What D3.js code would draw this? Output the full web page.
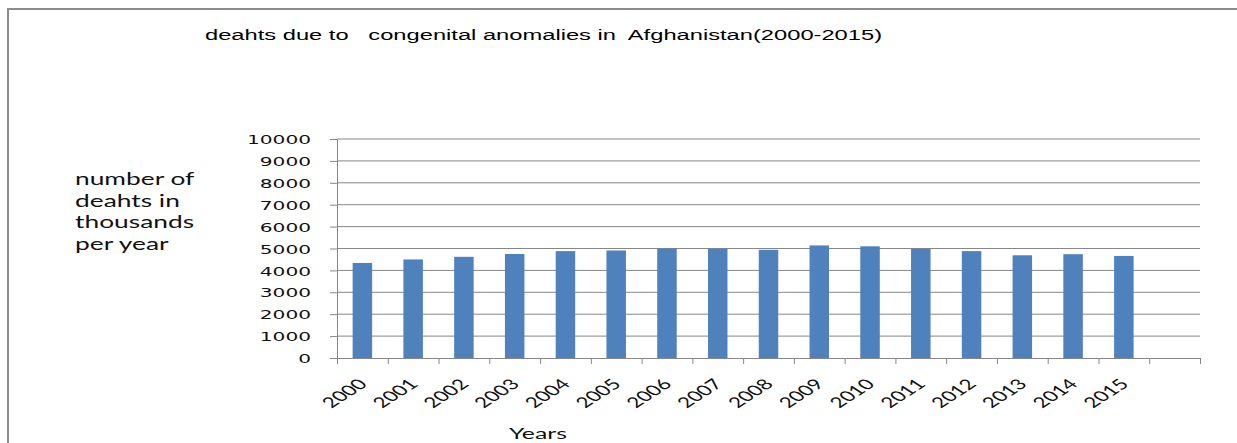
<!DOCTYPE html>
<html>
<head>
<meta charset="utf-8">
<script src="https://cdn.jsdelivr.net/npm/d3@7/dist/d3.min.js"></script>
<style>
  body { margin: 0; background: #fff; }
</style>
</head>
<body>
<div class="chart"></div>
<script>
// data
var years = ["2000", "2001", "2002", "2003", "2004", "2005", "2006", "2007",
             "2008", "2009", "2010", "2011", "2012", "2013", "2014", "2015", ""];
var deaths = [4340, 4500, 4620, 4750, 4880, 4910, 5000, 4990,
              4940, 5140, 5100, 4990, 4880, 4690, 4740, 4660];
var yTicks = [0, 1000, 2000, 3000, 4000, 5000, 6000, 7000, 8000, 9000, 10000];
var yLabelLines = ["number of", "deahts in", "thousands", "per year"];

var S = 1.55; // the original picture is stretched sideways
var grey = "#878787";

var margin = {top: 139, left: 337},
    width = 863,
    height = 219;

var svg = d3.select(".chart")
  .append("svg")
    .attr("width", 1237)
    .attr("height", 443);

// outer frame (runs off the right and bottom edges)
svg.append("rect")
  .attr("x", 8).attr("y", 9)
  .attr("width", 1300).attr("height", 500)
  .attr("fill", "none")
  .attr("stroke", "#8c8c8c")
  .attr("stroke-width", 2);

// title
svg.append("text")
  .attr("transform", "translate(205,40) scale(" + S + ",1)")
  .style("white-space", "pre")
  .style("font-family", "'Liberation Sans', Arial, sans-serif")
  .style("font-size", "15.3px")
  .attr("fill", "#000")
  .text("deahts due to   congenital anomalies in  Afghanistan(2000-2015)");

// y axis title, four lines
svg.append("g").selectAll("text")
  .data(yLabelLines)
  .enter()
  .append("text")
    .attr("transform", function(d, i) { return "translate(75," + (185 + i * 21.6) + ") scale(" + S + ",1)"; })
    .style("font-family", "Lato, sans-serif")
    .style("font-size", "17px")
    .attr("fill", "#111")
    .text(function(d) { return d; });

var g = svg.append("g")
  .attr("transform", "translate(" + margin.left + "," + margin.top + ")");

// scales
var x = d3.scaleBand()
  .domain(years)
  .range([0, width])
  .paddingInner(0.616)
  .paddingOuter(0.308);

var xEdge = d3.scaleLinear()
  .domain([0, years.length])
  .range([0, width]);

var y = d3.scaleLinear()
  .domain([0, 10000])
  .range([height, 0]);

// gridlines
g.append("g").selectAll("line")
  .data(yTicks.slice(1))
  .enter()
  .append("line")
    .attr("x1", 0).attr("x2", width)
    .attr("y1", function(d) { return y(d); })
    .attr("y2", function(d) { return y(d); })
    .attr("stroke", grey)
    .attr("stroke-width", 1);

// y axis
var yAxis = g.append("g")
  .call(d3.axisLeft(y).tickValues(yTicks).tickFormat(d3.format("d")).tickSize(7).tickSizeOuter(0));
yAxis.select(".domain").attr("stroke", grey);
yAxis.selectAll(".tick line").attr("stroke", grey);
yAxis.selectAll(".tick text")
  .attr("x", null)
  .attr("transform", "translate(-26,0) scale(" + S + ",1)")
  .attr("dy", "0.36em")
  .style("font-family", "'DejaVu Sans', Verdana, sans-serif")
  .style("font-size", "13px")
  .attr("fill", "#111");

// x axis: ticks on the category boundaries
var xAxis = g.append("g")
  .attr("transform", "translate(0," + height + ")")
  .call(d3.axisBottom(xEdge).tickValues(d3.range(years.length + 1)).tickSize(6).tickSizeOuter(0).tickFormat(""));
xAxis.select(".domain").attr("stroke", grey);
xAxis.selectAll(".tick line").attr("stroke", grey);

// x labels, slanted
g.append("g").selectAll("text")
  .data(years.filter(function(d) { return d !== ""; }))
  .enter()
  .append("text")
    .attr("transform", function(d) {
      return "translate(" + (x(d) + x.bandwidth() / 2 + 6) + "," + (height + 27) + ") scale(" + S + ",1) rotate(-45)";
    })
    .attr("text-anchor", "end")
    .style("font-family", "Lato, sans-serif")
    .style("font-size", "14.5px")
    .attr("fill", "#111")
    .text(function(d) { return d; });

// bars
g.selectAll(".bar")
  .data(deaths.map(function(v, i) { return {year: years[i], value: v}; }))
  .enter()
  .append("rect")
    .attr("class", "bar")
    .attr("x", function(d) { return x(d.year); })
    .attr("y", function(d) { return y(d.value); })
    .attr("width", x.bandwidth())
    .attr("height", function(d) { return height - y(d.value); })
    .attr("fill", "#4f81bd");

// x axis title
svg.append("text")
  .attr("transform", "translate(538,439) scale(" + S + ",1)")
  .attr("text-anchor", "middle")
  .style("font-family", "Lato, sans-serif")
  .style("font-size", "16px")
  .attr("fill", "#111")
  .text("Years");
</script>
</body>
</html>
